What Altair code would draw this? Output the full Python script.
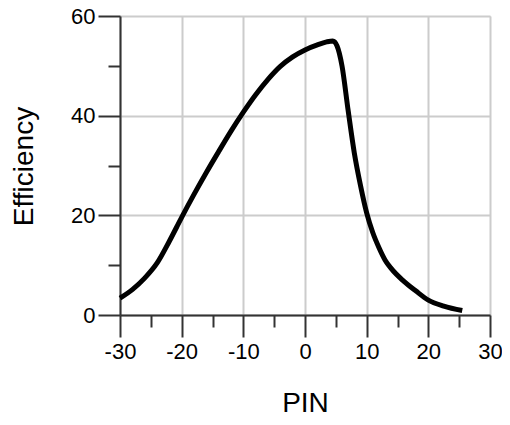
import altair as alt
import pandas as pd

pin = [-30, -28, -26, -24, -22, -20, -18, -16, -14, -12, -10, -8, -6, -4, -2, 0, 2, 3.5, 4.5,
       5.2, 6, 7, 8, 9, 10, 11, 12, 13, 14, 16, 18, 20, 22.5, 25.5]
eff = [3.4, 5.1, 7.4, 10.4, 14.8, 19.6, 24.2, 28.6, 32.8, 36.9, 40.7, 44.2, 47.3, 49.9, 51.8,
       53.2, 54.2, 54.8, 55,
       54, 50, 41, 32.5, 26, 20.5, 16.5, 13.5, 11, 9.3, 6.8, 4.8, 3.0, 1.8, 0.9]

x_major = [-30, -20, -10, 0, 10, 20, 30]
x_minor = [-25, -15, -5, 5, 15, 25]
y_major = [0, 20, 40, 60]
y_minor = [10, 30, 50]

df = pd.DataFrame({"PIN": pin, "Efficiency": eff})

FONT = "Liberation Sans"
DARK = "#333333"

xs = alt.Scale(domain=[-30, 30], nice=False, zero=False)
ys = alt.Scale(domain=[0, 60], nice=False, zero=False)

main = alt.Chart(df).mark_line(color="black", strokeWidth=5, interpolate="monotone").encode(
    x=alt.X("PIN:Q", scale=xs, axis=alt.Axis(
        orient="bottom", values=x_major, tickSize=22, tickWidth=2, tickColor=DARK,
        domainColor=DARK, domainWidth=2, grid=True, gridColor="#cccccc", gridWidth=2,
        labelFontSize=22, labelFont=FONT, labelColor="black", labelPadding=4,
        labelFlush=False, labelOverlap=False, labelExpr="'' + datum.value",
        title="PIN", titleFont=FONT, titleFontSize=28, titleFontWeight="normal",
        titleColor="black", titleX=185, titleY=96, titleBaseline="alphabetic")),
    y=alt.Y("Efficiency:Q", scale=ys, axis=alt.Axis(
        orient="left", values=y_major, tickSize=22, tickWidth=2, tickColor=DARK,
        domainColor=DARK, domainWidth=2, grid=True, gridColor="#cccccc", gridWidth=2,
        labelFontSize=22, labelFont=FONT, labelColor="black", labelPadding=3,
        labelOverlap=False, labelExpr="'' + datum.value",
        title="Efficiency", titleFont=FONT, titleFontSize=28, titleFontWeight="normal",
        titleColor="black", titleAngle=270, titleX=-88, titleY=150,
        titleBaseline="alphabetic", titleAlign="center")),
)

minor = alt.Chart(df).mark_line(opacity=0).encode(
    x=alt.X("PIN:Q", scale=xs, axis=alt.Axis(
        orient="bottom", values=x_minor, tickSize=12, tickWidth=2, tickColor=DARK,
        domain=False, grid=False, labels=False, title=None)),
    y=alt.Y("Efficiency:Q", scale=ys, axis=alt.Axis(
        orient="left", values=y_minor, tickSize=12, tickWidth=2, tickColor=DARK,
        domain=False, grid=False, labels=False, title=None)),
)

chart = alt.layer(minor, main).resolve_axis(x="independent", y="independent").properties(
    width=370, height=299,
    autosize=alt.AutoSizeParams(type="none"),
    padding={"left": 112, "top": 8, "right": 12, "bottom": 102},
).configure_view(stroke=DARK, strokeWidth=2).configure(background="white")

chart.save("out.html", embed_options={"renderer": "svg", "actions": False})
